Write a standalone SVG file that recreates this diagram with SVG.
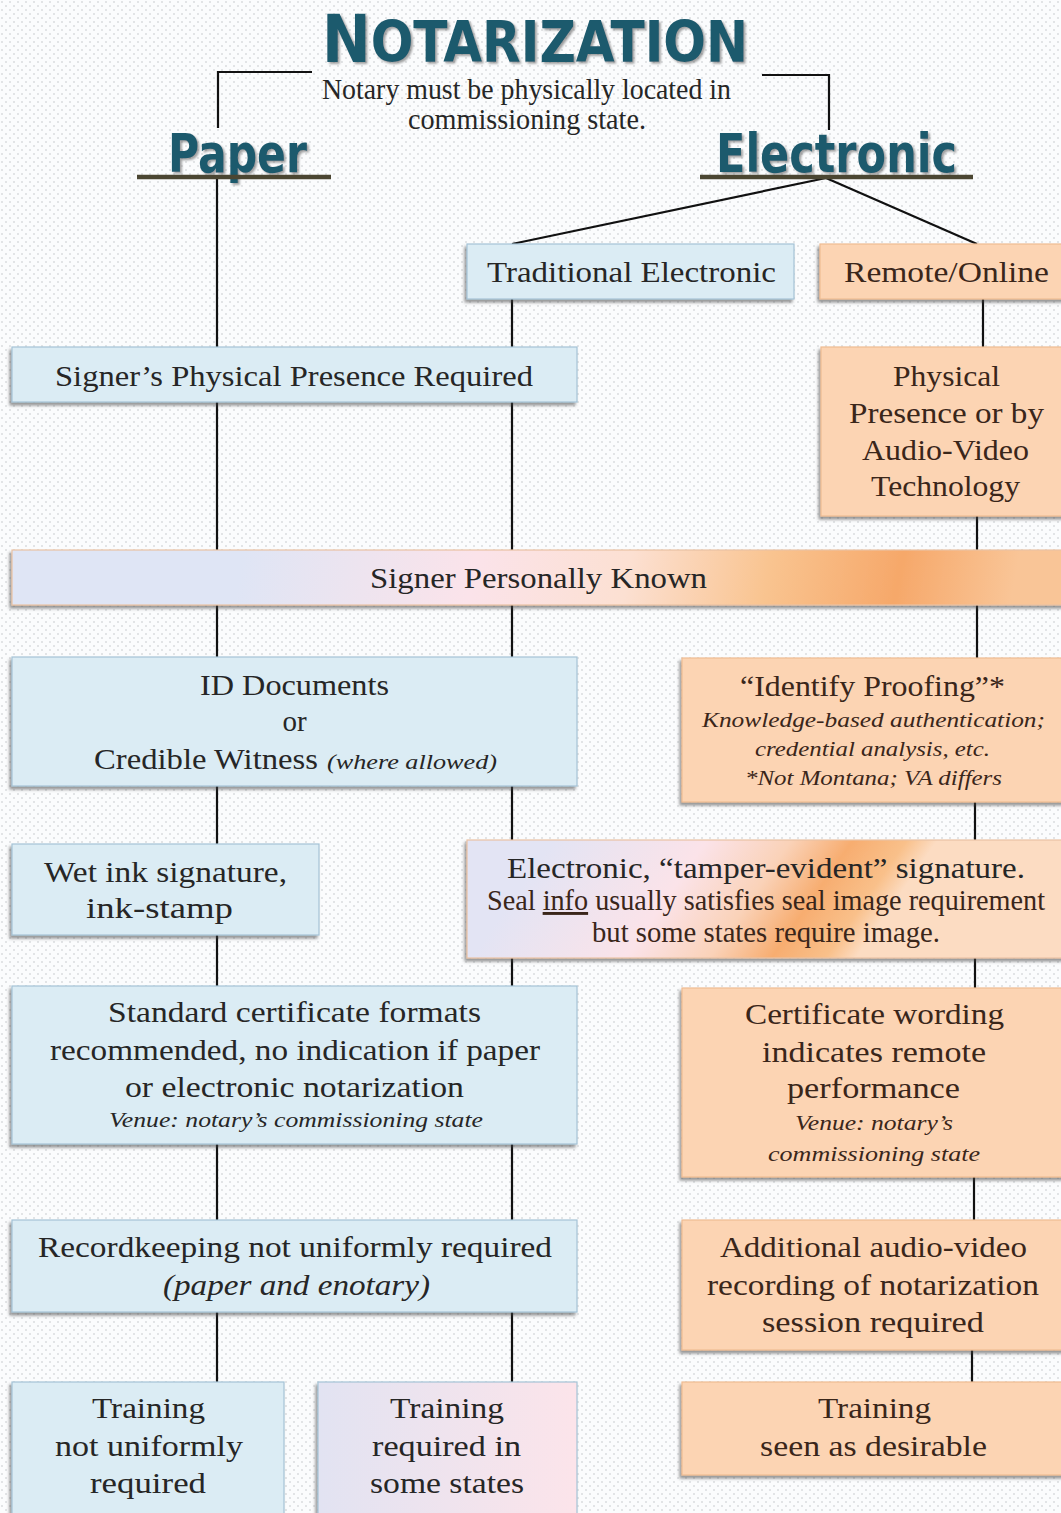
<svg xmlns="http://www.w3.org/2000/svg" width="1061" height="1513" viewBox="0 0 1061 1513">
<defs>
<pattern id="dots" width="8" height="8" patternUnits="userSpaceOnUse">
<rect width="8" height="8" fill="#fbfcfd"/>
<circle cx="2" cy="2" r="0.8" fill="#c2c6ca"/>
<circle cx="6" cy="6" r="0.8" fill="#c2c6ca"/>
</pattern>
<filter id="sh" x="-5%" y="-10%" width="110%" height="130%">
<feDropShadow dx="-2" dy="3" stdDeviation="1.8" flood-color="#444" flood-opacity="0.55"/>
</filter>
<filter id="tsh" x="-5%" y="-10%" width="110%" height="130%">
<feDropShadow dx="2" dy="2" stdDeviation="1.2" flood-color="#555" flood-opacity="0.55"/>
</filter>
<linearGradient id="gKnown" x1="250" y1="520" x2="1000" y2="660" gradientUnits="userSpaceOnUse">
<stop offset="0" stop-color="#dfe5f5"/>
<stop offset="0.3" stop-color="#fbe3ea"/>
<stop offset="0.5" stop-color="#fce0d2"/>
<stop offset="0.68" stop-color="#f9c490"/>
<stop offset="0.85" stop-color="#f6a86a"/>
<stop offset="1" stop-color="#f9c597"/>
</linearGradient>
<linearGradient id="gTamper" x1="560" y1="830" x2="820" y2="1010" gradientUnits="userSpaceOnUse">
<stop offset="0" stop-color="#e3e4f4"/>
<stop offset="0.4" stop-color="#fbe3e9"/>
<stop offset="0.62" stop-color="#fad2b8"/>
<stop offset="0.78" stop-color="#f7ad70"/>
<stop offset="0.92" stop-color="#f9c08a"/>
<stop offset="1" stop-color="#fcdcc2"/>
</linearGradient>
<linearGradient id="gTrain" x1="0" y1="0" x2="1" y2="0">
<stop offset="0" stop-color="#e2e3f2"/>
<stop offset="1" stop-color="#fce4ea"/>
</linearGradient>
<style>
.blue{fill:#dbecf4;stroke:#a5c3d6;stroke-width:1.2;filter:url(#sh)}
.orange{fill:#fcd4b3;stroke:#efbc92;stroke-width:1.2;filter:url(#sh)}
.grad{stroke:#e9c2a4;stroke-width:1.2;filter:url(#sh)}
.t{font-family:"Liberation Serif","DejaVu Serif",serif;font-size:29px;fill:#262626;text-anchor:middle}
.to{fill:#3a261a}
.i{font-style:italic;font-size:21px}
.head{font-family:"Liberation Sans Narrow","DejaVu Sans Condensed","Liberation Sans",sans-serif;font-weight:bold;fill:#1f5a6d;filter:url(#tsh)}
.ln{stroke:#111;stroke-width:2.2;fill:none}
.bar{stroke:#4b4632;stroke-width:4.5}
</style>
</defs>
<rect width="1061" height="1513" fill="url(#dots)"/>

<g id="title">
<text class="head" x="322" y="62" textLength="426" lengthAdjust="spacingAndGlyphs"><tspan font-size="66">N</tspan><tspan font-size="57">OTARIZATION</tspan></text>
<text class="t" x="526.5" y="99" font-size="24" textLength="409" lengthAdjust="spacingAndGlyphs">Notary must be physically located in</text>
<text class="t" x="527" y="129" font-size="24" textLength="238" lengthAdjust="spacingAndGlyphs">commissioning state.</text>
</g>

<g id="connectors">
<polyline class="ln" points="312,72 218,72 218,128"/>
<polyline class="ln" points="762,75 829,75 829,130"/>
<line class="ln" x1="217" y1="178" x2="217" y2="1384"/>
<line class="ln" x1="512" y1="298" x2="512" y2="1384"/>
<line class="ln" x1="826" y1="178" x2="512" y2="244"/>
<line class="ln" x1="826" y1="178" x2="977" y2="244"/>
<line class="ln" x1="983" y1="298" x2="983" y2="349"/>
<line class="ln" x1="977" y1="514" x2="977" y2="660"/>
<line class="ln" x1="975" y1="800" x2="975" y2="990"/>
<line class="ln" x1="974" y1="1175" x2="974" y2="1222"/>
<line class="ln" x1="972" y1="1348" x2="972" y2="1384"/>
</g>

<g id="paper">
<text class="head" x="168" y="172" font-size="54" textLength="139" lengthAdjust="spacingAndGlyphs">Paper</text>
<line class="bar" x1="137" y1="177" x2="331" y2="177"/>
</g>
<g id="electronic">
<text class="head" x="716" y="172" font-size="54" textLength="241" lengthAdjust="spacingAndGlyphs">Electronic</text>
<line class="bar" x1="700" y1="177" x2="973" y2="177"/>
</g>

<g id="traditional-electronic">
<rect class="blue" x="467" y="244" width="327" height="55"/>
<text class="t" x="631.5" y="282" textLength="289" lengthAdjust="spacingAndGlyphs">Traditional Electronic</text>
</g>
<g id="remote-online">
<rect class="orange" x="820" y="244" width="245" height="55"/>
<text class="t to" x="946.5" y="282" textLength="205" lengthAdjust="spacingAndGlyphs">Remote/Online</text>
</g>

<g id="physical-presence-required">
<rect class="blue" x="12" y="347" width="565" height="55"/>
<text class="t" x="294" y="386" textLength="478" lengthAdjust="spacingAndGlyphs">Signer’s Physical Presence Required</text>
</g>
<g id="physical-or-av">
<rect class="orange" x="821" y="347" width="244" height="169"/>
<text class="t to" x="946.5" y="386" textLength="107" lengthAdjust="spacingAndGlyphs">Physical</text>
<text class="t to" x="946.5" y="423" textLength="195" lengthAdjust="spacingAndGlyphs">Presence or by</text>
<text class="t to" x="945.5" y="460" textLength="167" lengthAdjust="spacingAndGlyphs">Audio-Video</text>
<text class="t to" x="945.5" y="496" textLength="149" lengthAdjust="spacingAndGlyphs">Technology</text>
</g>

<g id="signer-personally-known">
<rect class="grad" x="12" y="550" width="1053" height="55" fill="url(#gKnown)"/>
<text class="t" x="538.5" y="588" textLength="337" lengthAdjust="spacingAndGlyphs">Signer Personally Known</text>
</g>

<g id="id-documents">
<rect class="blue" x="12" y="657" width="565" height="129"/>
<text class="t" x="294.5" y="695" textLength="189" lengthAdjust="spacingAndGlyphs">ID Documents</text>
<text class="t" x="294.5" y="731">or</text>
<text class="t" x="94" y="769" style="text-anchor:start" textLength="224" lengthAdjust="spacingAndGlyphs">Credible Witness</text>
<text class="t i" x="327" y="769" style="text-anchor:start" textLength="170" lengthAdjust="spacingAndGlyphs">(where allowed)</text>
</g>
<g id="identity-proofing">
<rect class="orange" x="682" y="658" width="383" height="144"/>
<text class="t to" x="872.5" y="696" textLength="265" lengthAdjust="spacingAndGlyphs">“Identify Proofing”*</text>
<text class="t to i" x="873.5" y="727" textLength="343" lengthAdjust="spacingAndGlyphs">Knowledge-based authentication;</text>
<text class="t to i" x="872.5" y="756" textLength="235" lengthAdjust="spacingAndGlyphs">credential analysis, etc.</text>
<text class="t to i" x="873.5" y="785" textLength="257" lengthAdjust="spacingAndGlyphs">*Not Montana; VA differs</text>
</g>

<g id="wet-ink">
<rect class="blue" x="12" y="844" width="307" height="91"/>
<text class="t" x="165.5" y="882" textLength="243" lengthAdjust="spacingAndGlyphs">Wet ink signature,</text>
<text class="t" x="159.5" y="918" textLength="147" lengthAdjust="spacingAndGlyphs">ink-stamp</text>
</g>
<g id="tamper-evident">
<rect class="grad" x="467" y="840" width="598" height="118" fill="url(#gTamper)"/>
<text class="t" x="766" y="878" textLength="518" lengthAdjust="spacingAndGlyphs">Electronic, “tamper-evident” signature.</text>
<text class="t to" x="766" y="910" font-size="23" textLength="558" lengthAdjust="spacingAndGlyphs">Seal <tspan text-decoration="underline">info</tspan> usually satisfies seal image requirement</text>
<text class="t to" x="766" y="942" font-size="23" textLength="348" lengthAdjust="spacingAndGlyphs">but some states require image.</text>
</g>

<g id="standard-certificate">
<rect class="blue" x="12" y="986" width="565" height="158"/>
<text class="t" x="294.5" y="1022" textLength="373" lengthAdjust="spacingAndGlyphs">Standard certificate formats</text>
<text class="t" x="295" y="1060" textLength="490" lengthAdjust="spacingAndGlyphs">recommended, no indication if paper</text>
<text class="t" x="294.5" y="1097" textLength="339" lengthAdjust="spacingAndGlyphs">or electronic notarization</text>
<text class="t i" x="296" y="1127" textLength="374" lengthAdjust="spacingAndGlyphs">Venue: notary’s commissioning state</text>
</g>
<g id="certificate-wording">
<rect class="orange" x="682" y="988" width="383" height="189"/>
<text class="t to" x="874.5" y="1024" textLength="259" lengthAdjust="spacingAndGlyphs">Certificate wording</text>
<text class="t to" x="874" y="1062" textLength="224" lengthAdjust="spacingAndGlyphs">indicates remote</text>
<text class="t to" x="873.5" y="1098" textLength="173" lengthAdjust="spacingAndGlyphs">performance</text>
<text class="t to i" x="874" y="1130" textLength="158" lengthAdjust="spacingAndGlyphs">Venue: notary’s</text>
<text class="t to i" x="874" y="1161" textLength="212" lengthAdjust="spacingAndGlyphs">commissioning state</text>
</g>

<g id="recordkeeping">
<rect class="blue" x="12" y="1220" width="565" height="92"/>
<text class="t" x="295" y="1257" textLength="514" lengthAdjust="spacingAndGlyphs">Recordkeeping not uniformly required</text>
<text class="t" x="296.5" y="1295" font-style="italic" textLength="267" lengthAdjust="spacingAndGlyphs">(paper and enotary)</text>
</g>
<g id="av-recording">
<rect class="orange" x="682" y="1220" width="383" height="130"/>
<text class="t to" x="873.5" y="1257" textLength="307" lengthAdjust="spacingAndGlyphs">Additional audio-video</text>
<text class="t to" x="873" y="1295" textLength="332" lengthAdjust="spacingAndGlyphs">recording of notarization</text>
<text class="t to" x="873" y="1332" textLength="222" lengthAdjust="spacingAndGlyphs">session required</text>
</g>

<g id="training-paper">
<rect class="blue" x="12" y="1382" width="272" height="135"/>
<text class="t" x="148.5" y="1418" textLength="113" lengthAdjust="spacingAndGlyphs">Training</text>
<text class="t" x="149" y="1456" textLength="188" lengthAdjust="spacingAndGlyphs">not uniformly</text>
<text class="t" x="148" y="1493" textLength="116" lengthAdjust="spacingAndGlyphs">required</text>
</g>
<g id="training-traditional">
<rect class="blue" x="318" y="1382" width="259" height="135" style="fill:url(#gTrain)"/>
<text class="t" x="447" y="1418" textLength="114" lengthAdjust="spacingAndGlyphs">Training</text>
<text class="t" x="446.5" y="1456" textLength="149" lengthAdjust="spacingAndGlyphs">required in</text>
<text class="t" x="447" y="1493" textLength="154" lengthAdjust="spacingAndGlyphs">some states</text>
</g>
<g id="training-remote">
<rect class="orange" x="682" y="1382" width="383" height="93"/>
<text class="t to" x="874.5" y="1418" textLength="113" lengthAdjust="spacingAndGlyphs">Training</text>
<text class="t to" x="873.5" y="1456" textLength="227" lengthAdjust="spacingAndGlyphs">seen as desirable</text>
</g>
</svg>
